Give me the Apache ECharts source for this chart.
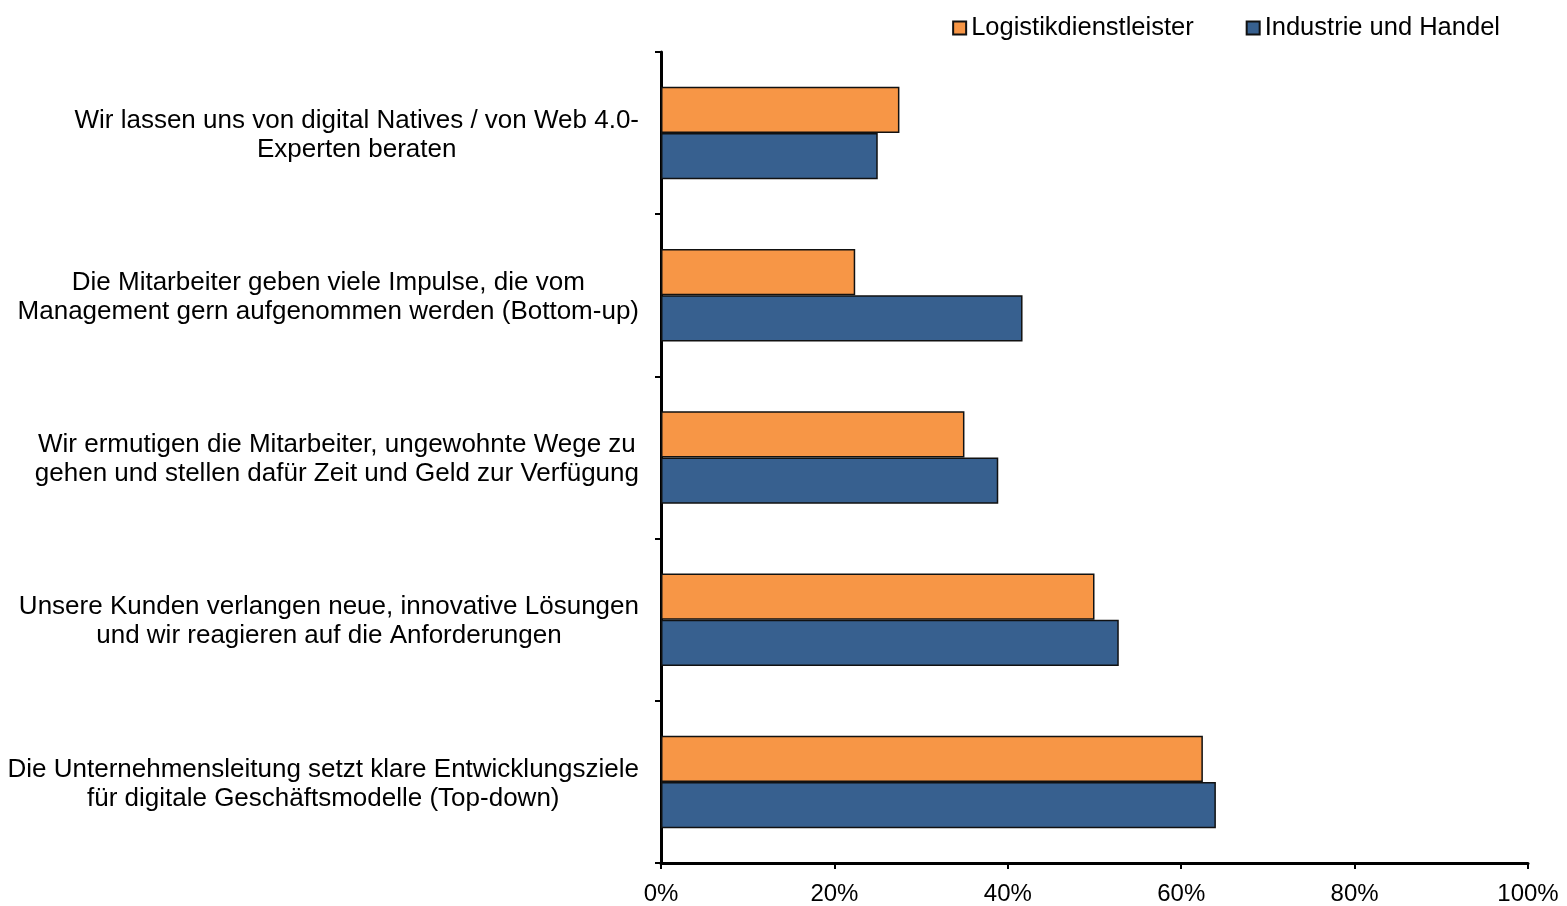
<!DOCTYPE html>
<html>
<head>
<meta charset="utf-8">
<script src="https://cdn.jsdelivr.net/npm/echarts@6/dist/echarts.min.js"></script>
<style>
  html, body { margin: 0; padding: 0; background: #fff; }
  #chart { width: 1567px; height: 906px; }
</style>
</head>
<body>
<div id="chart"></div>
<script>
// categories top to bottom
var categories = [
    'Wir lassen uns von digital Natives / von Web 4.0-\nExperten beraten',
    'Die Mitarbeiter geben viele Impulse, die vom\nManagement gern aufgenommen werden (Bottom-up)',
    'Wir ermutigen die Mitarbeiter, ungewohnte Wege zu\ngehen und stellen dafür Zeit und Geld zur Verfügung',
    'Unsere Kunden verlangen neue, innovative Lösungen\nund wir reagieren auf die Anforderungen',
    'Die Unternehmensleitung setzt klare Entwicklungsziele\nfür digitale Geschäftsmodelle (Top-down)'
];
var logistik = [27.5, 22.4, 35.0, 50.0, 62.5];
var industrie = [25.0, 41.7, 38.9, 52.8, 64.0];
var seriesNames = ['Logistikdienstleister', 'Industrie und Handel'];

var font = 'Liberation Sans, Arial, sans-serif';

var chart = echarts.init(document.getElementById('chart'));
var option = {
    animation: false,
    backgroundColor: '#fff',
    legend: {
        data: seriesNames,
        top: 10,
        right: 62,
        itemWidth: 13,
        itemHeight: 13,
        itemGap: 52,
        icon: 'rect',
        textStyle: { fontFamily: font, fontSize: 25.5, color: '#000' }
    },
    grid: { left: 661, right: 39, top: 52, bottom: 43 },
    xAxis: {
        type: 'value',
        min: 0,
        max: 100,
        interval: 20,
        splitLine: { show: false },
        axisLine: { show: true, lineStyle: { color: '#000', width: 3 } },
        axisTick: { show: true, length: 6, lineStyle: { color: '#000', width: 2 } },
        axisLabel: { formatter: '{value}%', fontFamily: font, fontSize: 24, color: '#000', margin: 19 }
    },
    yAxis: {
        type: 'category',
        inverse: true,
        data: categories,
        axisLine: { show: true, lineStyle: { color: '#000', width: 3 } },
        axisTick: { show: true, length: 6, lineStyle: { color: '#000', width: 2 } },
        axisLabel: {
            align: 'right',
            margin: 22,
            fontFamily: font,
            fontSize: 26,
            color: '#000',
            lineHeight: 29,
            padding: [4, 0, 0, 0],
            formatter: function (value) {
                return value.split('\n').map(function (l) { return '{c|' + l + '}'; }).join('\n');
            },
            rich: {
                c: { align: 'center', fontFamily: font, fontSize: 26, lineHeight: 29, color: '#000' }
            }
        }
    },
    series: [
        {
            name: seriesNames[0],
            type: 'bar',
            data: logistik,
            barCategoryGap: '43%',
            barGap: '0%',
            itemStyle: { color: '#F79646', borderColor: '#111', borderWidth: 1.5 }
        },
        {
            name: seriesNames[1],
            type: 'bar',
            data: industrie,
            itemStyle: { color: '#37608F', borderColor: '#111', borderWidth: 1.5 }
        }
    ]
};
chart.setOption(option);
</script>
</body>
</html>
